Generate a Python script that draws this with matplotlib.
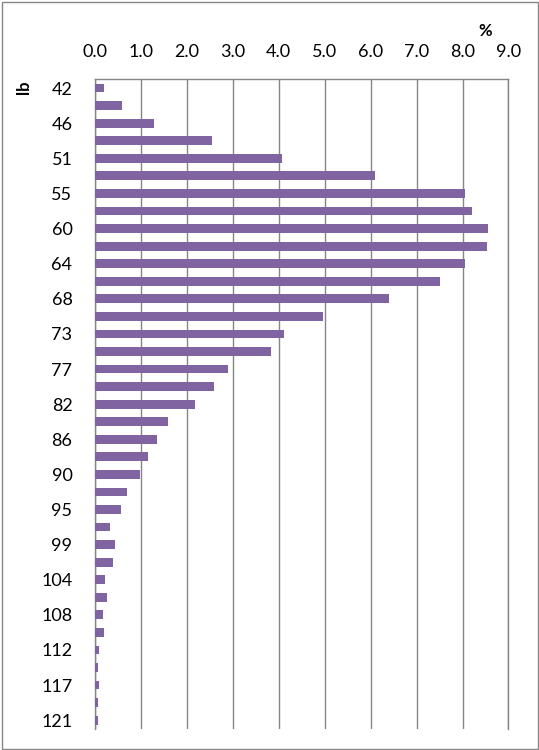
import numpy as np
import matplotlib.pyplot as plt
from matplotlib.patches import Rectangle

plt.rcParams['font.family'] = ['Lato', 'DejaVu Sans']

# weight classes in lb (19 kg .. 55 kg)
weights_lb = [42, 44, 46, 49, 51, 53, 55, 57, 60, 62, 64, 66, 68, 71, 73, 75, 77, 79,
              82, 84, 86, 88, 90, 93, 95, 97, 99, 101, 104, 106, 108, 110, 112, 115,
              117, 119, 121]
percent = [0.21, 0.60, 1.29, 2.56, 4.08, 6.10, 8.06, 8.21, 8.56, 8.54, 8.06, 7.52,
           6.41, 4.97, 4.12, 3.84, 2.90, 2.60, 2.18, 1.60, 1.36, 1.17, 0.99, 0.70,
           0.58, 0.34, 0.45, 0.40, 0.23, 0.27, 0.18, 0.20, 0.09, 0.07, 0.09, 0.07,
           0.07]
xticks = np.arange(0, 9.1, 1.0)

W, H = 539, 750
fig = plt.figure(figsize=(W / 100, H / 100), dpi=100)
ax = fig.add_axes([94.7 / W, 1 - 729 / H, (508.5 - 94.7) / W, (729 - 79.3) / H])

pos = np.arange(len(weights_lb))
ax.barh(pos, percent, height=0.5, color='#8064A2', zorder=3)

ax.set_xlim(0, 9.0)
ax.set_ylim(len(weights_lb) - 0.5, -0.5)
ax.set_xticks(xticks)
ax.set_xticklabels([f'{v:.1f}' for v in xticks], fontsize=13)
ax.xaxis.tick_top()
ax.tick_params(axis='x', length=0, pad=14)
ax.set_yticks(pos[::2])
ax.set_yticklabels([str(w) for w in weights_lb[::2]], fontsize=13)
ax.tick_params(axis='y', length=0, pad=16)

ax.grid(axis='x', color='#868686', linewidth=1, zorder=0)
for s in ['right', 'bottom']:
    ax.spines[s].set_visible(False)
for s in ['left', 'top']:
    ax.spines[s].set_color('#868686')
    ax.spines[s].set_linewidth(1)
ax.axvline(9.0, color='#868686', linewidth=1, zorder=0, clip_on=False)

fig.text(485 / W, 1 - 31 / H, '%', fontsize=12, fontweight='bold', ha='center', va='center')
fig.text(24 / W, 1 - 87 / H, 'lb', fontsize=12, fontweight='bold', rotation=90,
         ha='center', va='center')

fig.patches.append(Rectangle((1.5 / W, 1.5 / H), (W - 3) / W, (H - 3) / H,
                             transform=fig.transFigure, fill=False,
                             edgecolor='#868686', linewidth=1))

fig.savefig('out.png', dpi=100)
